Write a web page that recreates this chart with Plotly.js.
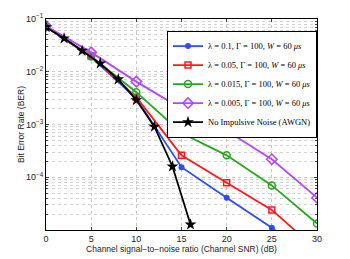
<!DOCTYPE html>
<html>
<head>
<meta charset="utf-8">
<script src="https://cdn.plot.ly/plotly-3.0.1.min.js"></script>
<style>html,body{margin:0;padding:0;background:#fff;}#chart{width:350px;height:259px;}</style>
</head>
<body>
<div id="chart"></div>
<script>
const snr = [0, 5, 10, 15, 20, 25, 30];
const berL01 = [0.0705, 0.019, 0.0031, 1.55e-4, 4.1e-5, 1.1e-5, 2.5e-6];
const berL005 = [0.0705, 0.0198, 0.0033, 2.6e-4, 7.9e-5, 2.4e-5, 4.2e-6];
const berL0015 = [0.071, 0.0195, 0.0041, 6.9e-4, 2.6e-4, 7.0e-5, 1.33e-5];
const berL0005 = [0.0736, 0.0233, 0.0065, 2.0e-3, 7.6e-4, 2.2e-4, 4.1e-5];
const snrAwgn = [0, 2, 4, 6, 8, 10, 12, 14, 16];
const berAwgn = [0.07, 0.043, 0.025, 0.0144, 0.0072, 0.0029, 9.1e-4, 1.6e-4, 1.27e-5];
const names = [
  'λ = 0.1, Γ = 100, <i>W</i> = 60 <i>μs</i>',
  'λ = 0.05, Γ = 100, <i>W</i> = 60 <i>μs</i>',
  'λ = 0.015, Γ = 100, <i>W</i> = 60 <i>μs</i>',
  'λ = 0.005, Γ = 100, <i>W</i> = 60 <i>μs</i>',
  'No Impulsive Noise (AWGN)'
];
const yTickVals = [1e-4, 1e-3, 1e-2, 1e-1];
const yTickText = ['10<sup>−4</sup>', '10<sup>−3</sup>', '10<sup>−2</sup>', '10<sup>−1</sup>'];
const xTickVals = [0, 5, 10, 15, 20, 25, 30];

const traces = [
  {x: snr, y: berL01, name: names[0], line: {color: '#2b4cff', width: 1.8},
   marker: {symbol: 'circle', size: 6, color: '#2b4cff'}},
  {x: snr, y: berL005, name: names[1], line: {color: '#ff1a1a', width: 1.8},
   marker: {symbol: 'square-open', size: 6, color: '#ff1a1a', line: {width: 1.5}}},
  {x: snr, y: berL0015, name: names[2], line: {color: '#26a81e', width: 1.8},
   marker: {symbol: 'circle-open', size: 7, color: '#26a81e', line: {width: 1.5}}},
  {x: snr, y: berL0005, name: names[3], line: {color: '#b347ff', width: 1.8},
   marker: {symbol: 'diamond-open', size: 8, color: '#b347ff', line: {width: 1.5}}},
  {x: snrAwgn, y: berAwgn, name: names[4], line: {color: '#000', width: 1.8},
   marker: {symbol: 'star', size: 9, color: '#000'}}
].map(t => Object.assign({type: 'scatter', mode: 'lines+markers', cliponaxis: true}, t));

const layout = {
  width: 350, height: 259,
  margin: {l: 45.5, r: 32.5, t: 19, b: 29},
  paper_bgcolor: '#fff', plot_bgcolor: '#fff',
  font: {family: 'Liberation Sans, Arial, sans-serif', size: 9, color: '#222'},
  showlegend: true,
  legend: {
    x: 1, y: 0.945, xanchor: 'right', yanchor: 'top',
    bgcolor: '#fff', bordercolor: '#000', borderwidth: 1,
    font: {family: 'Liberation Serif, Times New Roman, serif', size: 8.5, color: '#000'},
    tracegroupgap: 0, itemwidth: 30
  },
  xaxis: {
    range: [0, 30], tickvals: xTickVals, ticks: 'inside', ticklen: 3,
    showline: true, mirror: 'ticks', linecolor: '#000', linewidth: 1,
    showgrid: true, gridcolor: '#c8c8c8', griddash: 'dot', zeroline: false,
    tickfont: {size: 9},
    title: {text: 'Channel signal−to−noise ratio (Channel SNR) (dB)', font: {size: 8.5}, standoff: 2}
  },
  yaxis: {
    type: 'log', range: [-5, -1], tickvals: yTickVals, ticktext: yTickText,
    ticks: 'inside', ticklen: 3,
    showline: true, mirror: 'ticks', linecolor: '#000', linewidth: 1,
    showgrid: true, gridcolor: '#c8c8c8', griddash: 'dot', zeroline: false,
    minor: {showgrid: true, gridcolor: '#d4d4d4', griddash: 'dot', ticks: 'inside', ticklen: 2, dtick: 'D1'},
    tickfont: {size: 9}
  },
  annotations: [{
    text: 'Bit Error Rate (BER)', xref: 'paper', yref: 'paper',
    x: -0.094, y: 0.5, xanchor: 'center', yanchor: 'middle',
    textangle: -90, showarrow: false, font: {size: 8.5, color: '#222'}
  }]
};
Plotly.newPlot('chart', traces, layout, {displayModeBar: false, staticPlot: true});
</script>
</body>
</html>
